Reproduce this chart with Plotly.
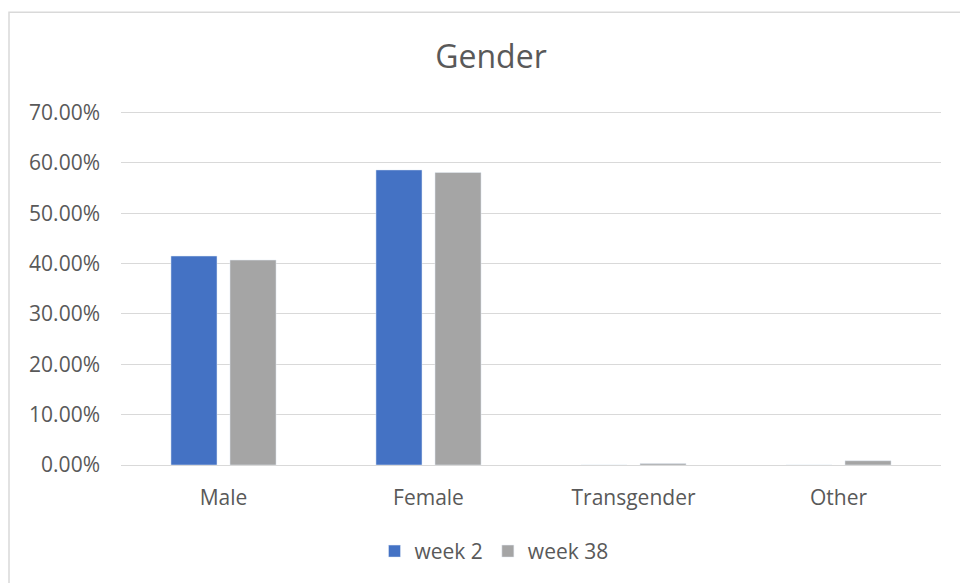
import plotly.graph_objects as go

categories = ["Male", "Female", "Transgender", "Other"]
week2 = [0.415, 0.586, 0.0, 0.0]
week38 = [0.407, 0.581, 0.003, 0.0085]
y_ticks = [0, 0.1, 0.2, 0.3, 0.4, 0.5, 0.6, 0.7]

TEXT = "#595959"
GRID = "#D9D9D9"
FONT = "Open Sans"

fig = go.Figure()
fig.add_trace(go.Bar(name="week 2", x=categories, y=week2, marker_color="#4472C4"))
fig.add_trace(go.Bar(name="week 38", x=categories, y=week38, marker_color="#A5A5A5"))

fig.update_layout(
    width=960, height=583,
    margin=dict(l=121, r=19, t=110, b=117),
    paper_bgcolor="white", plot_bgcolor="white",
    font=dict(family=FONT, color=TEXT, size=21),
    title=dict(text="Gender", x=491 / 960, xanchor="center", y=1 - 57 / 583, yanchor="middle",
               font=dict(family=FONT, size=32, color=TEXT)),
    barmode="group", bargap=0.424, bargroupgap=0.22,
    showlegend=True,
    legend=dict(orientation="h", x=(494 - 121) / 820, xanchor="center", y=-0.24, yanchor="middle",
                font=dict(family=FONT, size=21, color=TEXT), itemwidth=30, tracegroupgap=0),
)
fig.update_yaxes(range=[0, 0.705], tickvals=y_ticks, tickformat=".2%",
                 showgrid=True, gridcolor=GRID, gridwidth=1.3, zeroline=False,
                 showline=False, ticklabelstandoff=20)
fig.update_xaxes(showline=True, linecolor=GRID, linewidth=1.3, showgrid=False,
                 ticklabelstandoff=14)

# chart-area frame
fig.add_shape(type="rect", xref="paper", yref="paper",
              x0=(9 - 121) / 820, x1=1.1, y0=-0.5, y1=(466 - 12) / 356,
              line=dict(color=GRID, width=1.5), fillcolor="rgba(0,0,0,0)", layer="below")

fig.write_html("out.html")
